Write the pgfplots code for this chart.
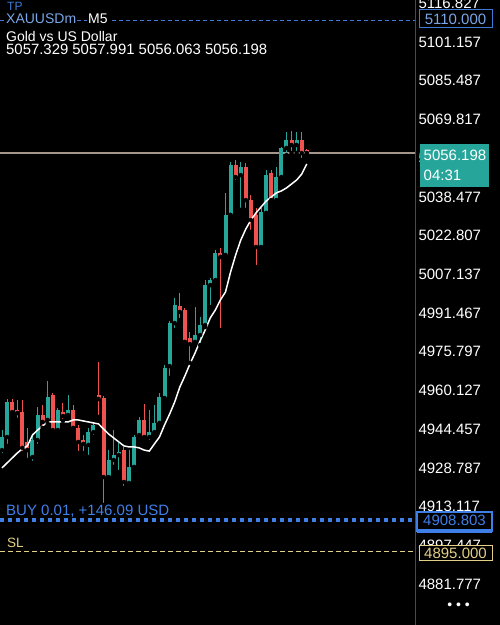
\documentclass[border=0pt]{standalone}
\usepackage{pgfplots}
\pgfplotsset{compat=1.18}
\usepackage{pgfplotstable}
\usepackage{fontspec}
\setmainfont{Liberation Sans}
\definecolor{bullc}{HTML}{26A69A}
\definecolor{bearc}{HTML}{EF5350}
\definecolor{tpblue}{HTML}{3D7BD6}
\definecolor{tplight}{HTML}{7AA6E8}
\definecolor{buyblue}{HTML}{3F7FE8}
\definecolor{slyel}{HTML}{E3CF86}
\definecolor{pricegray}{RGB}{165,150,140}
\definecolor{sepgray}{HTML}{4A4A4A}

\pgfplotstableread{
i o h l c
0 4936.0 4944.1 4934.0 4941.3
1 4941.3 4956.7 4937.7 4955.5
6 4933.2 4942.5 4930.8 4940.1
7 4940.1 4953.5 4937.7 4950.2
9 4948.2 4964.0 4946.6 4957.5
11 4944.1 4953.0 4943.3 4952.2
13 4950.2 4958.3 4949.4 4952.2
17 4938.1 4945.0 4933.2 4943.3
18 4943.3 4947.4 4941.3 4946.2
21 4925.1 4936.0 4923.9 4932.0
22 4932.0 4944.1 4929.2 4934.0
23 4934.0 4938.9 4927.1 4935.2
25 4922.7 4936.0 4921.1 4929.2
26 4929.2 4942.1 4928.8 4941.3
27 4942.1 4949.4 4940.9 4948.2
29 4941.3 4952.2 4939.3 4943.3
30 4943.3 4954.3 4942.1 4947.0
31 4947.0 4959.1 4945.8 4957.5
32 4957.1 4970.4 4955.5 4969.2
33 4970.0 4988.3 4965.2 4987.4
34 4987.4 4997.6 4984.6 4994.7
38 4979.8 4993.9 4978.5 4982.6
39 4982.6 4989.9 4978.5 4986.6
40 4986.6 5004.8 4985.8 5002.8
41 5002.8 5005.7 4993.9 5004.8
42 5004.8 5017.0 5004.0 5015.8
44 5015.0 5040.1 5014.2 5031.2
45 5031.2 5052.6 5029.9 5051.4
47 5047.3 5052.6 5033.2 5050.6
51 5018.2 5034.0 5017.0 5032.4
52 5032.0 5049.4 5030.3 5047.3
54 5037.2 5050.6 5036.4 5046.5
55 5046.5 5058.7 5046.1 5058.3
56 5058.3 5064.7 5055.4 5061.5
58 5059.5 5064.7 5056.2 5061.5
}\bull

\pgfplotstableread{
i o h l c
2 4955.5 4956.7 4950.6 4951.4
3 4952.2 4956.3 4948.2 4951.0
4 4951.4 4956.3 4934.8 4936.9
5 4939.3 4945.0 4932.0 4936.0
8 4950.2 4954.3 4945.0 4947.4
10 4958.3 4959.1 4943.3 4944.1
12 4951.4 4955.1 4947.8 4949.8
14 4952.2 4954.3 4943.7 4945.0
15 4945.0 4946.2 4934.8 4939.3
16 4940.1 4942.1 4934.8 4938.5
19 4958.3 4971.7 4949.4 4956.7
20 4957.1 4957.9 4913.8 4925.1
24 4936.0 4937.3 4920.7 4923.1
28 4948.2 4954.7 4940.9 4941.3
35 4994.3 4999.6 4988.7 4991.9
36 4992.7 4993.5 4978.5 4979.8
37 4981.4 4983.8 4971.3 4978.9
43 5015.8 5017.8 4984.6 5014.2
46 5051.4 5053.4 5044.5 5046.5
48 5050.6 5052.2 5033.2 5037.2
49 5037.2 5039.2 5024.3 5029.1
50 5031.2 5034.0 5010.1 5018.2
53 5048.2 5049.4 5036.0 5037.2
57 5061.5 5065.1 5056.2 5059.5
59 5061.5 5064.7 5053.4 5056.2
60 5057.329 5057.991 5056.063 5056.198
}\bear

\pgfplotstableread{
i v
0 4928.8
1 4930.8
2 4932.8
3 4934.8
4 4936.5
5 4937.7
6 4942.1
7 4944.1
8 4945.8
9 4947.4
10 4947.4
11 4947.4
12 4947.4
13 4947.4
14 4948.2
15 4948.2
16 4947.8
17 4947.4
18 4947.0
19 4946.6
20 4944.5
21 4942.5
22 4940.9
23 4939.3
24 4937.7
25 4937.3
26 4937.3
27 4936.9
28 4936.0
29 4935.6
30 4938.5
31 4941.3
32 4946.2
33 4950.6
34 4955.5
35 4961.5
36 4966.0
37 4970.9
38 4975.3
39 4980.2
40 4984.6
41 4989.5
42 4992.7
43 4996.8
44 5000.0
45 5008.1
46 5015.0
47 5021.0
48 5025.5
49 5029.1
50 5032.0
51 5034.4
52 5036.8
53 5038.4
54 5040.1
55 5040.9
56 5042.1
57 5043.7
58 5045.3
59 5047.7
60 5051.8
}\ma

\begin{document}
\begin{tikzpicture}[x=1pt,y=1pt]
\clip (0,0) rectangle (500,625);
\fill[black] (0,0) rectangle (500,625);
\begin{axis}[
  at={(0,0)}, anchor=south west,
  scale only axis, width=415pt, height=625pt,
  xmin=-0.394, xmax=81.3, ymin=4865.22, ymax=5118.16,
  axis line style={draw=none},
  xtick=\empty,
  ytick={4881.777,4897.447,4913.117,4928.787,4944.457,4960.127,4975.797,4991.467,5007.137,5022.807,5038.477,5054.147,5069.817,5085.487,5101.157,5116.827},
  yticklabels={4881.777,4897.447,4913.117,4928.787,4944.457,4960.127,4975.797,4991.467,5007.137,5022.807,5038.477,5054.147,5069.817,5085.487,5101.157,5116.827},
  yticklabel pos=right,
  major tick length=0pt,
  yticklabel style={font=\fontsize{15}{17}\selectfont, text=white},
  clip=false,
]
% horizontal level lines
\addplot[tpblue, line width=1pt, dash pattern=on 4pt off 3pt] coordinates {(-0.394,5110) (81.3,5110)};
\addplot[slyel, line width=1pt, dash pattern=on 5pt off 3pt] coordinates {(-0.394,4895) (81.3,4895)};
\addplot[buyblue, line width=4.5pt, dash pattern=on 4pt off 4pt] coordinates {(-0.394,4907.8) (81.3,4907.8)};
\addplot[pricegray, line width=1.3pt] coordinates {(-0.394,5056.198) (81.3,5056.198)};
% wicks
\addplot[only marks, mark=none, error bars/.cd, y dir=plus, y explicit, error mark=none,
  error bar style={draw=bullc, line width=1pt}]
  table[x=i, y=l, y error plus expr={\thisrow{h}-\thisrow{l}}] {\bull};
\addplot[only marks, mark=none, error bars/.cd, y dir=plus, y explicit, error mark=none,
  error bar style={draw=bearc, line width=1pt}]
  table[x=i, y=l, y error plus expr={\thisrow{h}-\thisrow{l}}] {\bear};
% bodies
\addplot[only marks, mark=none, error bars/.cd, y dir=plus, y explicit, error mark=none,
  error bar style={draw=bullc, line width=4pt}]
  table[x=i, y=o, y error plus expr={\thisrow{c}-\thisrow{o}}] {\bull};
\addplot[only marks, mark=none, error bars/.cd, y dir=plus, y explicit, error mark=none,
  error bar style={draw=bearc, line width=4pt}]
  table[x=i, y=c, y error plus expr={\thisrow{o}-\thisrow{c}}] {\bear};
% moving average
\addplot[white, line width=1.5pt, mark=none] table[x=i, y=v] {\ma};
\end{axis}
% separator
\draw[sepgray, line width=1pt] (415.5,0) -- (415.5,625);
% right boxes
\draw[tpblue, fill=black, line width=1pt] (419,615) rectangle (492,597);
\node[text=tplight, font=\fontsize{15}{17}\selectfont] at (455.5,606) {5110.000};
\fill[bullc] (420,481) rectangle (489,438);
\node[anchor=west, text=white, font=\fontsize{15}{17}\selectfont, inner sep=0pt] at (423.5,470) {5056.198};
\node[anchor=west, text=white, font=\fontsize{15}{17}\selectfont, inner sep=0pt] at (423.5,450) {04:31};
\draw[buyblue, fill=black, line width=1.5pt] (417,113) rectangle (492,94);
\fill[buyblue] (417,96) rectangle (492,92);
\node[text=buyblue, font=\fontsize{15}{17}\selectfont] at (454.5,105) {4908.803};
\draw[slyel, fill=black, line width=1pt] (419,79) rectangle (492,64);
\node[text=slyel, font=\fontsize{15}{17}\selectfont] at (455.5,71.5) {4895.000};
\node[text=white, font=\fontsize{14}{16}\selectfont] at (458.5,19) {• • •};
% left texts
\node[anchor=base west, text=tpblue, font=\fontsize{12}{14}\selectfont, inner sep=0pt] at (7,614) {TP};
\node[anchor=base west, text=tplight, fill=black, font=\fontsize{14}{16}\selectfont, inner sep=1pt] at (5,601.5) {XAUUSDm};
\node[anchor=base west, text=white, fill=black, font=\fontsize{14}{16}\selectfont, inner sep=1pt] at (87,601.5) {M5};
\node[anchor=base west, text=white, font=\fontsize{14}{16}\selectfont, inner sep=0pt] at (6,583) {Gold vs US Dollar};
\node[anchor=base west, text=white, font=\fontsize{14.9}{17}\selectfont, inner sep=0pt] at (6,570) {5057.329 5057.991 5056.063 5056.198};
\node[anchor=base west, text=buyblue, font=\fontsize{15}{17}\selectfont, inner sep=0pt] at (6,109) {BUY 0.01, +146.09 USD};
\node[anchor=base west, text=slyel, font=\fontsize{13.5}{15}\selectfont, inner sep=0pt] at (7,77) {SL};
\end{tikzpicture}
\end{document}
